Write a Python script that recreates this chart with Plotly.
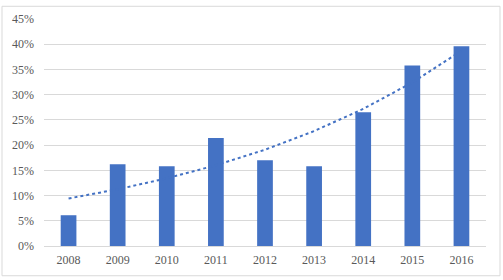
import numpy as np
import plotly.graph_objects as go

years = ["2008", "2009", "2010", "2011", "2012", "2013", "2014", "2015", "2016"]
values = [6.1, 16.2, 15.8, 21.4, 17.0, 15.8, 26.5, 35.8, 39.6]  # percent
y_ticks = [0, 5, 10, 15, 20, 25, 30, 35, 40, 45]
y_tick_labels = [f"{t}%" for t in y_ticks]

# exponential trendline fitted to the data (as Excel does)
xi = np.arange(len(values))
b, a = np.polyfit(xi, np.log(values), 1)
trend = np.exp(a + b * xi)

blue = "#4472C4"
fig = go.Figure()
fig.add_trace(go.Bar(x=years, y=values, marker=dict(color=blue, line=dict(width=0)),
                     hoverinfo="x+y"))
fig.add_trace(go.Scatter(x=years, y=trend, mode="lines",
                         line=dict(color=blue, width=2, dash="dot"), hoverinfo="skip"))

fig.update_layout(
    width=503, height=280,
    margin=dict(l=44, r=17, t=14, b=33.5),
    paper_bgcolor="white", plot_bgcolor="white",
    showlegend=False, bargap=0.68,
    font=dict(family="Liberation Serif, Times New Roman, serif", size=12, color="#595959"),
    xaxis=dict(showgrid=False, showline=True, linecolor="#d9d9d9", linewidth=1,
               ticks="", ticklabelstandoff=3, tickfont=dict(size=12, color="#595959")),
    yaxis=dict(range=[0, 45], tickvals=y_ticks, ticktext=y_tick_labels,
               showgrid=True, gridcolor="#d9d9d9", gridwidth=1, zeroline=False,
               showline=False, ticks="", ticklabelstandoff=9,
               tickfont=dict(size=12, color="#595959")),
    shapes=[dict(type="rect", xref="paper", yref="paper",
                 x0=-0.095, x1=1.0317, y0=-0.131, y1=1.056,
                 line=dict(color="#d9d9d9", width=1), fillcolor="rgba(0,0,0,0)",
                 layer="above")],
)
fig.write_html("out.html", config={"displayModeBar": False},
               post_script="document.body.style.margin='0';document.body.style.overflow='hidden';")
